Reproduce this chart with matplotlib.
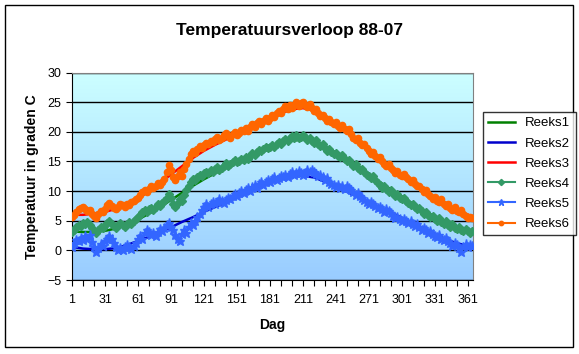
import numpy as np
import matplotlib
matplotlib.use("Agg")
import matplotlib.pyplot as plt
from matplotlib.patches import Rectangle

plt.rcParams['font.family'] = ['Liberation Sans', 'DejaVu Sans']

# smooth series (every 10 days)
days_smooth = list(range(1, 362, 10)) + [365]
reeks1 = [3.2, 3.1, 3.1, 3.3, 3.7, 4.3, 5.2, 6.2, 7.3, 8.5,
          9.7, 10.9, 12.0, 13.0, 13.9, 14.8, 15.6, 16.4, 17.2, 17.9,
          18.5, 18.7, 18.3, 17.4, 16.4, 15.2, 14.0, 12.7, 11.5, 10.3,
          9.0, 7.8, 6.7, 5.7, 4.8, 4.1, 3.5, 3.3]
reeks2 = [0.6, 0.3, 0.2, 0.2, 0.4, 0.9, 1.6, 2.3, 3.0, 3.9,
          4.8, 5.6, 6.5, 7.3, 8.1, 8.9, 9.7, 10.5, 11.3, 12.0,
          12.4, 12.6, 12.3, 11.6, 10.8, 9.9, 9.0, 8.1, 7.3, 6.4,
          5.5, 4.6, 3.7, 2.8, 1.9, 1.2, 0.8, 0.7]
reeks3 = [6.0, 6.0, 6.2, 6.5, 7.0, 7.7, 8.7, 10.0, 11.4, 12.8,
          14.2, 15.6, 16.8, 17.8, 18.7, 19.6, 20.5, 21.4, 22.3, 23.1,
          23.8, 24.0, 23.6, 22.6, 21.4, 20.1, 18.6, 17.0, 15.4, 13.9,
          12.6, 11.3, 10.1, 8.9, 7.8, 6.8, 6.0, 5.8]

# daily series (read every 2 days)
days_obs = list(range(1, 366, 2))
reeks4 = [3.1, 3.4, 3.9, 4.3, 4.1, 4.6, 4.4, 4.8, 4.3, 3.8, 3.3, 2.9, 3.5, 4.0, 3.7,
          4.2, 4.6, 4.9, 4.5, 4.1, 3.8, 4.2, 4.6, 4.3, 4.0, 4.5, 4.8, 4.4, 4.9, 5.3,
          5.6, 6.0, 6.5, 6.8, 6.4, 6.9, 7.2, 6.8, 7.3, 7.8, 7.5, 8.0, 8.4, 8.9, 9.5,
          8.8, 7.9, 7.4, 8.0, 8.7, 8.3, 9.4, 10.2, 10.9, 11.6, 12.1, 11.8, 12.4, 12.8, 12.5,
          13.0, 13.3, 13.0, 13.5, 13.2, 13.7, 14.0, 13.6, 13.9, 14.3, 14.7, 14.2, 14.5, 14.9, 15.2,
          14.9, 15.1, 15.5, 15.2, 15.7, 15.4, 16.0, 16.4, 16.1, 16.6, 17.0, 16.7, 17.1, 17.5, 17.2,
          17.5, 17.8, 17.4, 17.9, 18.3, 18.0, 18.5, 18.8, 18.4, 18.9, 19.3, 18.9, 19.4, 19.0, 19.2,
          19.5, 19.1, 18.7, 19.0, 18.5, 18.2, 18.6, 18.0, 17.6, 17.9, 17.3, 16.8, 17.1, 16.6, 16.3,
          16.5, 16.0, 15.7, 16.1, 15.5, 15.0, 15.3, 14.7, 14.2, 14.5, 13.9, 13.5, 13.8, 13.2, 12.8,
          12.6, 12.2, 12.5, 11.8, 11.4, 11.0, 10.6, 10.9, 10.3, 9.9, 10.2, 9.6, 9.2, 9.5, 8.9,
          8.6, 8.9, 8.3, 8.0, 7.6, 7.9, 7.3, 6.9, 7.1, 6.6, 6.2, 6.5, 5.9, 5.6, 5.8,
          5.3, 5.0, 5.4, 4.8, 4.5, 4.9, 4.3, 4.0, 4.4, 3.8, 3.6, 4.0, 3.5, 3.2, 3.6,
          3.3, 3.0, 3.2]
reeks5 = [0.6, 1.2, 1.8, 1.5, 2.1, 1.7, 2.4, 2.0, 2.6, 1.4, 0.6, -0.3, 0.4, 1.1, 0.7,
          1.5, 2.0, 2.4, 1.9, 1.3, 0.6, 0.1, 0.4, 0.0, 0.5, 0.9, 0.5, 0.2, 0.8, 1.3,
          1.9, 2.4, 2.0, 2.9, 3.4, 3.1, 2.6, 2.9, 2.5, 3.1, 3.6, 3.2, 3.8, 4.3, 4.6,
          4.0, 3.5, 2.6, 2.0, 1.6, 2.8, 3.5, 3.0, 4.0, 4.6, 4.2, 5.0, 5.6, 6.1, 6.8,
          7.3, 7.8, 7.4, 7.9, 8.2, 7.8, 8.1, 8.6, 8.3, 8.0, 8.5, 8.9, 8.6, 9.1, 9.5,
          9.2, 9.6, 10.0, 9.7, 10.2, 10.5, 10.1, 10.7, 11.0, 10.6, 11.2, 11.5, 11.1, 11.6, 11.9,
          11.6, 12.0, 12.3, 11.9, 12.2, 12.6, 12.3, 12.7, 12.4, 12.9, 13.2, 12.8, 13.1, 13.4, 13.0,
          12.7, 13.1, 13.5, 13.2, 13.6, 13.3, 12.9, 12.5, 12.8, 12.3, 11.9, 12.2, 11.6, 11.2, 11.0,
          10.7, 11.0, 10.6, 10.8, 10.4, 10.9, 10.5, 10.2, 9.8, 9.4, 9.7, 9.2, 8.9, 8.5, 8.1,
          7.8, 8.2, 7.9, 7.5, 7.1, 7.4, 6.9, 6.5, 6.9, 6.7, 6.3, 5.8, 5.4, 5.7, 5.3,
          5.0, 5.3, 4.9, 4.6, 4.9, 4.5, 4.1, 4.4, 3.9, 3.5, 3.8, 3.4, 2.9, 3.2, 2.8,
          2.5, 2.2, 2.6, 2.0, 1.7, 2.1, 1.5, 1.2, 0.8, 1.3, 0.9, 0.4, -0.3, 0.5, 1.0,
          0.6, 0.9, 0.7]
reeks6 = [5.6, 6.0, 6.4, 6.9, 7.2, 7.4, 7.0, 6.6, 6.8, 6.2, 5.8, 5.5, 6.1, 6.6, 6.4,
          7.0, 7.6, 8.0, 7.5, 7.2, 6.9, 7.3, 7.8, 7.6, 7.4, 7.9, 7.7, 8.1, 8.3, 8.6,
          8.9, 9.3, 9.8, 10.2, 9.8, 10.4, 10.8, 10.5, 10.9, 11.4, 11.1, 11.6, 12.0, 13.2, 14.4,
          13.6, 12.4, 11.8, 12.5, 13.2, 12.6, 13.8, 14.6, 15.4, 16.2, 16.8, 16.4, 17.1, 17.6, 17.3,
          17.8, 18.2, 17.9, 18.5, 18.3, 18.8, 19.1, 18.7, 19.0, 19.4, 19.8, 19.3, 19.0, 19.6, 19.9,
          19.5, 19.8, 20.3, 20.1, 20.6, 20.2, 20.8, 21.3, 20.9, 21.5, 21.9, 21.4, 21.8, 22.3, 21.9,
          22.4, 22.8, 22.5, 23.1, 23.6, 23.2, 23.8, 24.3, 23.9, 24.5, 24.1, 24.6, 25.0, 24.4, 24.8,
          25.1, 24.6, 24.2, 24.7, 24.0, 23.5, 23.8, 23.1, 22.6, 22.9, 22.4, 21.8, 22.1, 21.6, 21.3,
          21.6, 21.0, 20.7, 21.2, 20.5, 20.1, 20.4, 19.6, 19.0, 18.7, 18.9, 18.2, 17.7, 17.9, 17.2,
          16.8, 16.3, 16.6, 15.9, 15.4, 15.7, 15.1, 14.5, 14.2, 14.6, 13.9, 13.5, 13.1, 13.4, 12.8,
          12.5, 12.9, 12.3, 12.0, 11.6, 11.9, 11.2, 10.8, 10.9, 10.4, 9.9, 10.2, 9.5, 9.1, 8.7,
          9.0, 8.4, 8.2, 8.7, 7.9, 7.5, 7.9, 7.2, 6.8, 7.3, 6.7, 6.4, 6.8, 6.1, 5.8,
          5.4, 5.7, 5.5]

x_labels = list(range(1, 366, 30))

fig = plt.figure(figsize=(5.79, 3.54), dpi=100)
ax = fig.add_axes([0.1235, 0.209, 0.693, 0.586])

# gradient plot area
top = np.array([0.80, 1.0, 1.0])
bot = np.array([0.60, 0.80, 1.0])
t = np.linspace(0, 1, 256)[:, None]
grad = top * (1 - t) + bot * t
ax.imshow(grad[:, None, :], extent=[0, 1, 0, 1], transform=ax.transAxes,
          aspect='auto', zorder=0)

ax.plot(days_smooth, reeks1, color='#008000', lw=1.8, label='Reeks1', zorder=2)
ax.plot(days_smooth, reeks2, color='#0000CC', lw=1.8, label='Reeks2', zorder=2)
ax.plot(days_smooth, reeks3, color='#FF0000', lw=1.8, label='Reeks3', zorder=2)
ax.plot(days_obs, reeks4, color='#339966', lw=1.5, marker='D', ms=4.5, label='Reeks4', zorder=3)
ax.plot(days_obs, reeks5, color='#3366FF', lw=1.5, marker='*', ms=6.5, label='Reeks5', zorder=3)
ax.plot(days_obs, reeks6, color='#FF6600', lw=1.5, marker='o', ms=4.5, label='Reeks6', zorder=3)

ax.set_xlim(0.5, 365.5)
ax.set_ylim(-5, 30)
ax.set_yticks(range(-5, 31, 5))
ax.set_xticks(range(1, 366, 10))
ax.set_xticklabels([str(d) if d in x_labels else '' for d in range(1, 366, 10)])
ax.yaxis.grid(True, color='black', lw=1)
ax.set_axisbelow(True)
ax.tick_params(direction='out', length=4, labelsize=9, color='black')
ax.tick_params(axis='x', pad=6)
for s in ['top', 'right']:
    ax.spines[s].set_color('#808080')

ax.set_xlabel('Dag', fontsize=10, fontweight='bold', labelpad=9)
ax.set_ylabel('Temperatuur in graden C', fontsize=10, fontweight='bold', labelpad=6)
fig.text(0.5, 1 - 30 / 354, 'Temperatuursverloop 88-07', ha='center', va='center',
         fontsize=12.5, fontweight='bold')

leg = fig.legend(loc='upper left', bbox_to_anchor=(0.834, 0.684), fontsize=9.5,
                 frameon=True, fancybox=False, edgecolor='black', handlelength=2.0,
                 labelspacing=0.6, borderaxespad=0, markerscale=0.7)
leg.get_frame().set_linewidth(1)

fig.patches.append(Rectangle((0.009, 0.02), 0.981, 0.965, transform=fig.transFigure,
                             fill=False, edgecolor='black', lw=1))

fig.savefig('out.png', dpi=100)
